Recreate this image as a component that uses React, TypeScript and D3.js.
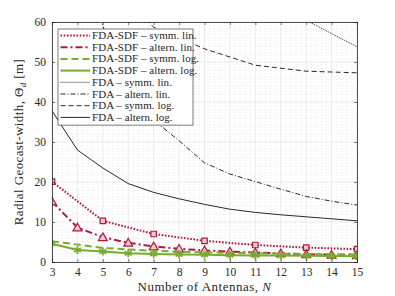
import React, { useRef, useEffect } from 'react';
import * as d3 from 'd3';

// antenna counts
const nAll = [3, 4, 5, 6, 7, 8, 9, 10, 11, 12, 13, 14, 15];
const nOdd = [3, 5, 7, 9, 11, 13, 15];

// FDA-SDF series
const sdfSymmLin = [20.1, 10.3, 7.0, 5.3, 4.25, 3.6, 3.2];
const sdfAltLin = [15.1, 8.6, 6.2, 4.8, 3.9, 3.3, 2.9, 2.6, 2.35, 2.15, 1.95, 1.8, 1.65];
const sdfSymmLog = [5.2, 3.5, 2.8, 2.4, 2.2, 2.0, 1.9];
const sdfAltLog = [4.6, 3.0, 2.6, 2.2, 2.0, 1.9, 1.8, 1.7, 1.65, 1.6, 1.55, 1.5, 1.45];

// FDA series
const fdaSymmLin = [140, 115, 95, 82, 72, 60.4, 53.8];
const fdaAltLin = [120, 85, 59, 43, 35.5, 30.3, 24.8, 22, 20.1, 18.2, 16.4, 15.2, 14.25];
const fdaSymmLog = [95, 72, 58.7, 53.3, 49.2, 47.7, 47.3];
const fdaAltLog = [37.8, 28, 23.5, 19.6, 17.4, 15.8, 14.4, 13.2, 12.4, 11.8, 11.3, 10.8, 10.3];

const xTicks = nAll;
const yTicks = [0, 10, 20, 30, 40, 50, 60];

const legendLabels = [
  'FDA-SDF \u2013 symm. lin.',
  'FDA-SDF \u2013 altern. lin.',
  'FDA-SDF \u2013 symm. log.',
  'FDA-SDF \u2013 altern. log.',
  'FDA \u2013 symm. lin.',
  'FDA \u2013 altern. lin.',
  'FDA \u2013 symm. log.',
  'FDA \u2013 altern. log.',
];

const RED = '#b2183c';
const GREEN = '#77ac30';
const DARK = '#262626';
const FONT = '"Liberation Serif", "DejaVu Serif", serif';

interface Series {
  xs: number[];
  ys: number[];
  color: string;
  width: number;
  dash: string;
  marker?: 'square' | 'triangle' | 'star';
}

const series: Series[] = [
  { xs: nOdd, ys: sdfSymmLin, color: RED, width: 2, dash: '1.6,1.6', marker: 'square' },
  { xs: nAll, ys: sdfAltLin, color: RED, width: 2, dash: '7,3,2,3', marker: 'triangle' },
  { xs: nOdd, ys: sdfSymmLog, color: GREEN, width: 2, dash: '7,4' },
  { xs: nAll, ys: sdfAltLog, color: GREEN, width: 2, dash: '', marker: 'star' },
  { xs: nOdd, ys: fdaSymmLin, color: '#111', width: 0.9, dash: '1,1' },
  { xs: nAll, ys: fdaAltLin, color: '#111', width: 0.9, dash: '5,2,1,2' },
  { xs: nOdd, ys: fdaSymmLog, color: '#111', width: 0.9, dash: '5,3' },
  { xs: nAll, ys: fdaAltLog, color: '#111', width: 0.9, dash: '' },
];

const App: React.FC = () => {
  const ref = useRef<SVGSVGElement | null>(null);

  useEffect(() => {
    if (!ref.current) return;
    const W = 395;
    const H = 296;
    const m = { left: 52, top: 22, right: 38, bottom: 34 };
    const iw = W - m.left - m.right;
    const ih = H - m.top - m.bottom;

    const svg = d3.select(ref.current);
    svg.selectAll('*').remove();
    svg.attr('width', W).attr('height', H);
    svg.append('rect').attr('width', W).attr('height', H).attr('fill', '#fff');

    const x = d3.scaleLinear().domain([3, 15]).range([0, iw]);
    const y = d3.scaleLinear().domain([0, 60]).range([ih, 0]);

    const g = svg.append('g').attr('transform', `translate(${m.left},${m.top})`);

    svg.append('defs').append('clipPath').attr('id', 'plotclip')
      .append('rect').attr('width', iw).attr('height', ih);

    // minor grid
    const minorX = d3.range(3, 15.001, 0.2).filter((v) => Math.abs(v - Math.round(v)) > 0.01);
    const minorY = d3.range(0, 60.001, 2).filter((v) => v % 10 !== 0);
    g.selectAll('.mgx').data(minorX).enter().append('line')
      .attr('x1', (d) => x(d)).attr('x2', (d) => x(d)).attr('y1', 0).attr('y2', ih)
      .attr('stroke', '#d6d6d6').attr('stroke-width', 0.5).attr('stroke-dasharray', '1,2');
    g.selectAll('.mgy').data(minorY).enter().append('line')
      .attr('y1', (d) => y(d)).attr('y2', (d) => y(d)).attr('x1', 0).attr('x2', iw)
      .attr('stroke', '#d6d6d6').attr('stroke-width', 0.5).attr('stroke-dasharray', '1,2');

    // major grid
    g.selectAll('.gx').data(xTicks).enter().append('line')
      .attr('x1', (d) => x(d)).attr('x2', (d) => x(d)).attr('y1', 0).attr('y2', ih)
      .attr('stroke', '#e3e3e3').attr('stroke-width', 0.8);
    g.selectAll('.gy').data(yTicks).enter().append('line')
      .attr('y1', (d) => y(d)).attr('y2', (d) => y(d)).attr('x1', 0).attr('x2', iw)
      .attr('stroke', '#e3e3e3').attr('stroke-width', 0.8);

    // series
    const plot = g.append('g').attr('clip-path', 'url(#plotclip)');
    series.forEach((s) => {
      const pts: [number, number][] = s.xs.map((n, i) => [n, s.ys[i]]);
      const line = d3.line<[number, number]>().x((d) => x(d[0])).y((d) => y(d[1]));
      plot.append('path').datum(pts).attr('d', line)
        .attr('fill', 'none').attr('stroke', s.color).attr('stroke-width', s.width)
        .attr('stroke-dasharray', s.dash || null).attr('stroke-linejoin', 'round');
      if (s.marker) {
        const sym = s.marker === 'square' ? d3.symbolSquare
          : s.marker === 'triangle' ? d3.symbolTriangle : d3.symbolAsterisk;
        const size = s.marker === 'square' ? 30 : s.marker === 'triangle' ? 34 : 45;
        plot.selectAll(null).data(pts).enter().append('path')
          .attr('d', d3.symbol().type(sym).size(size)())
          .attr('transform', (d) => `translate(${x(d[0])},${y(d[1]) + (s.marker === 'triangle' ? 0.8 : 0)})`)
          .attr('fill', s.marker === 'star' ? 'none' : '#eec9d1')
          .attr('stroke', s.color)
          .attr('stroke-width', s.marker === 'star' ? 1.8 : 1.2);
      }
    });

    // axes box and ticks
    const axB = d3.axisBottom(x).tickValues(xTicks).tickSize(-3).tickPadding(6).tickFormat(d3.format('d'));
    const axT = d3.axisTop(x).tickValues(xTicks).tickSize(-3).tickFormat(() => '');
    const axL = d3.axisLeft(y).tickValues(yTicks).tickSize(-3).tickPadding(6).tickFormat(d3.format('d'));
    const axR = d3.axisRight(y).tickValues(yTicks).tickSize(-3).tickFormat(() => '');
    const axes = [
      g.append('g').attr('transform', `translate(0,${ih})`).call(axB),
      g.append('g').call(axT),
      g.append('g').call(axL),
      g.append('g').attr('transform', `translate(${iw},0)`).call(axR),
    ];
    axes.forEach((a) => {
      a.select('.domain').attr('stroke', DARK).attr('stroke-width', 0.8);
      a.selectAll('.tick line').attr('stroke', DARK).attr('stroke-width', 0.6);
      a.selectAll('.tick text').attr('fill', DARK).style('font-family', FONT).style('font-size', '11.5px');
    });

    // axis titles
    const xt = svg.append('text')
      .attr('x', m.left + iw / 2).attr('y', H - 5)
      .attr('text-anchor', 'middle').attr('fill', DARK)
      .style('font-family', FONT).style('font-size', '13px').style('letter-spacing', '0.5px');
    xt.append('tspan').text('Number of Antennas, ');
    xt.append('tspan').attr('font-style', 'italic').text('N');

    const yt = svg.append('text')
      .attr('transform', `translate(${23},${m.top + ih / 2}) rotate(-90)`)
      .attr('text-anchor', 'middle').attr('fill', DARK)
      .style('font-family', FONT).style('font-size', '13px').style('letter-spacing', '0.4px');
    yt.append('tspan').text('Radial Geocast-width, \u0398');
    yt.append('tspan').attr('font-style', 'italic').attr('font-size', '9px').attr('dy', 3).text('d');
    yt.append('tspan').attr('dy', -3).text(' [m]');

    // legend
    const lx = 6;
    const ly = 7;
    const lw = 135;
    const rowH = 11.7;
    const leg = g.append('g').attr('transform', `translate(${lx},${ly})`);
    leg.append('rect').attr('width', lw).attr('height', rowH * 8 + 2.5)
      .attr('fill', '#fff').attr('stroke', DARK).attr('stroke-width', 0.6);
    series.forEach((s, i) => {
      const cy = 6.5 + i * rowH;
      leg.append('line').attr('x1', 2.5).attr('x2', 32).attr('y1', cy).attr('y2', cy)
        .attr('stroke', s.color).attr('stroke-width', s.width)
        .attr('stroke-dasharray', s.dash || null);
      leg.append('text').attr('x', 34).attr('y', cy + 3.5)
        .attr('fill', DARK).style('font-family', FONT).style('font-size', '11px')
        .style('letter-spacing', '0.05px')
        .text(legendLabels[i]);
    });
  }, []);

  return (
    <svg ref={ref} style={{ position: 'absolute', left: 0, top: 0 }} />
  );
};

export default App;
